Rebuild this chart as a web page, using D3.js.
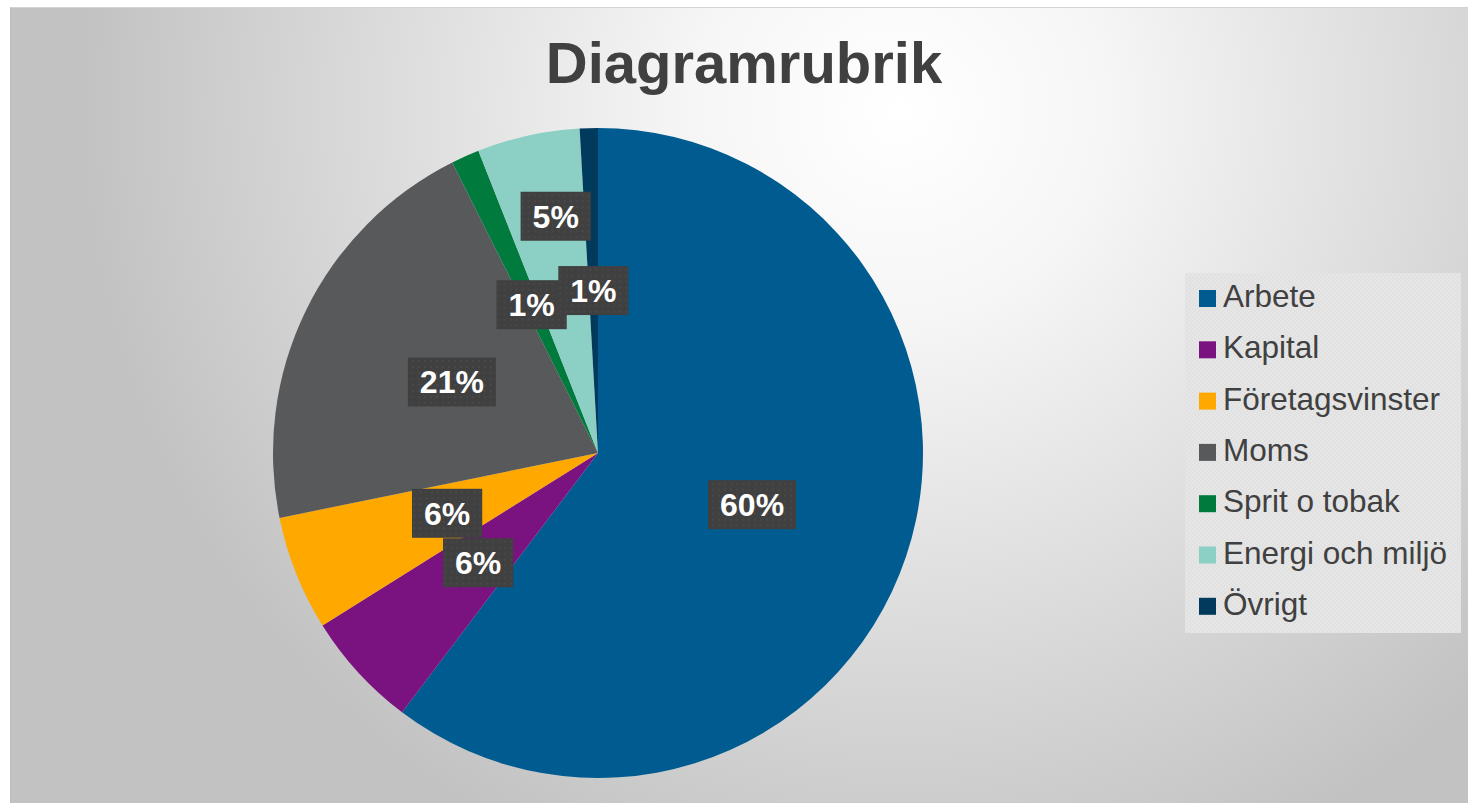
<!DOCTYPE html>
<html>
<head>
<meta charset="utf-8">
<script src="https://cdn.jsdelivr.net/npm/d3@7"></script>
<style>
    html, body { margin: 0; padding: 0; background: #ffffff; }
    svg { display: block; }
</style>
</head>
<body>
<div id="chart"></div>
<script>
(function() {
    'use strict';

    // data (clockwise from 12 o'clock)
    const categories = ["Arbete", "Kapital", "Företagsvinster", "Moms", "Sprit o tobak", "Energi och miljö", "Övrigt"];
    const shares = [60.3, 5.8, 5.7, 20.8, 1.4, 5.1, 0.9];
    const sliceColors = ["#005b91", "#7a1380", "#ffa800", "#58595b", "#007a3d", "#8bcfc5", "#003a5c"];
    const title = "Diagramrubrik";

    const width = 1468;
    const height = 803;

    // pie geometry
    const cx = 598;
    const cy = 453;
    const radius = 325;

    const svg = d3.select("#chart")
        .append("svg")
        .attr("width", width)
        .attr("height", height);

    const defs = svg.append("defs");

    // background gradient
    const bg = defs.append("radialGradient")
        .attr("id", "bg")
        .attr("gradientUnits", "userSpaceOnUse")
        .attr("cx", 900).attr("cy", 110).attr("r", 820);
    bg.append("stop").attr("offset", 0).attr("stop-color", "#ffffff");
    bg.append("stop").attr("offset", 0.25).attr("stop-color", "#f6f6f6");
    bg.append("stop").attr("offset", 1).attr("stop-color", "#c2c2c2");

    // dotted texture for label boxes
    const dots = defs.append("pattern")
        .attr("id", "dots")
        .attr("width", 6).attr("height", 6)
        .attr("patternUnits", "userSpaceOnUse");
    dots.append("rect").attr("width", 6).attr("height", 6).attr("fill", "#404040");
    dots.append("circle").attr("cx", 3).attr("cy", 3).attr("r", 1).attr("fill", "#4a4a4a");

    // texture for legend box
    const grain = defs.append("pattern")
        .attr("id", "grain")
        .attr("width", 4).attr("height", 4)
        .attr("patternUnits", "userSpaceOnUse");
    grain.append("rect").attr("width", 4).attr("height", 4).attr("fill", "#e6e6e6");
    grain.append("rect").attr("width", 2).attr("height", 2).attr("fill", "#e1e1e1");
    grain.append("rect").attr("x", 2).attr("y", 2).attr("width", 2).attr("height", 2).attr("fill", "#e1e1e1");

    // chart area
    svg.append("rect")
        .attr("x", 10).attr("y", 7)
        .attr("width", width - 10).attr("height", height - 7)
        .attr("fill", "url(#bg)");
    svg.append("line")
        .attr("x1", 10).attr("x2", width).attr("y1", 7.5).attr("y2", 7.5)
        .attr("stroke", "#d4d4d4");
    svg.append("line")
        .attr("x1", 10.5).attr("x2", 10.5).attr("y1", 7).attr("y2", height)
        .attr("stroke", "#bdbdbd");

    // TITLE
    svg.append("text")
        .attr("x", 744)
        .attr("y", 83)
        .attr("text-anchor", "middle")
        .attr("font-family", "Liberation Sans, Arial, sans-serif")
        .attr("font-weight", "bold")
        .attr("font-size", "58px")
        .attr("fill", "#404040")
        .text(title);

    // PIE
    const pieData = categories.map((c, i) => ({ name: c, value: shares[i], color: sliceColors[i] }));
    const pie = d3.pie().value(d => d.value).sort(null);
    const arcs = pie(pieData);
    const arc = d3.arc().innerRadius(0).outerRadius(radius);

    const g = svg.append("g").attr("transform", `translate(${cx},${cy})`);

    g.selectAll("path")
        .data(arcs)
        .join("path")
        .attr("d", arc)
        .attr("fill", d => d.data.color);

    // VALUE LABELS - energi label was pushed outward to clear its neighbours
    const labelRadius = { "Energi och miljö": 0.74 };
    const labels = g.append("g")
        .selectAll("g")
        .data(arcs)
        .join("g")
        .attr("transform", d => {
            const r = radius * (labelRadius[d.data.name] || 0.5);
            let a = (d.startAngle + d.endAngle) / 2;
            if (labelRadius[d.data.name]) a += 0.04;
            return `translate(${Math.sin(a) * r},${-Math.cos(a) * r})`;
        });

    labels.append("text")
        .attr("text-anchor", "middle")
        .attr("dy", "0.36em")
        .attr("font-family", "Liberation Sans, Arial, sans-serif")
        .attr("font-weight", "bold")
        .attr("font-size", "32px")
        .attr("fill", "#ffffff")
        .text(d => `${Math.round(d.data.value)}%`);

    labels.each(function() {
        const t = d3.select(this).select("text");
        const w = t.node().getComputedTextLength() + 24;
        d3.select(this).insert("rect", "text")
            .attr("x", -w / 2)
            .attr("y", -24.5)
            .attr("width", w)
            .attr("height", 49)
            .attr("fill", "url(#dots)");
    });

    // LEGEND
    const legend = svg.append("g");
    legend.append("rect")
        .attr("x", 1185).attr("y", 273)
        .attr("width", 276).attr("height", 360)
        .attr("fill", "url(#grain)");

    const rows = legend.selectAll("g.row")
        .data(pieData)
        .join("g")
        .attr("class", "row")
        .attr("transform", (d, i) => `translate(1199,${307 + i * 51.3})`);

    rows.append("rect")
        .attr("x", 0).attr("y", -17)
        .attr("width", 17).attr("height", 17)
        .attr("fill", d => d.color);

    rows.append("text")
        .attr("x", 24)
        .attr("y", 0)
        .attr("font-family", "Liberation Sans, Arial, sans-serif")
        .attr("font-size", "31.5px")
        .attr("fill", "#404040")
        .text(d => d.name);
})();
</script>
</body>
</html>
